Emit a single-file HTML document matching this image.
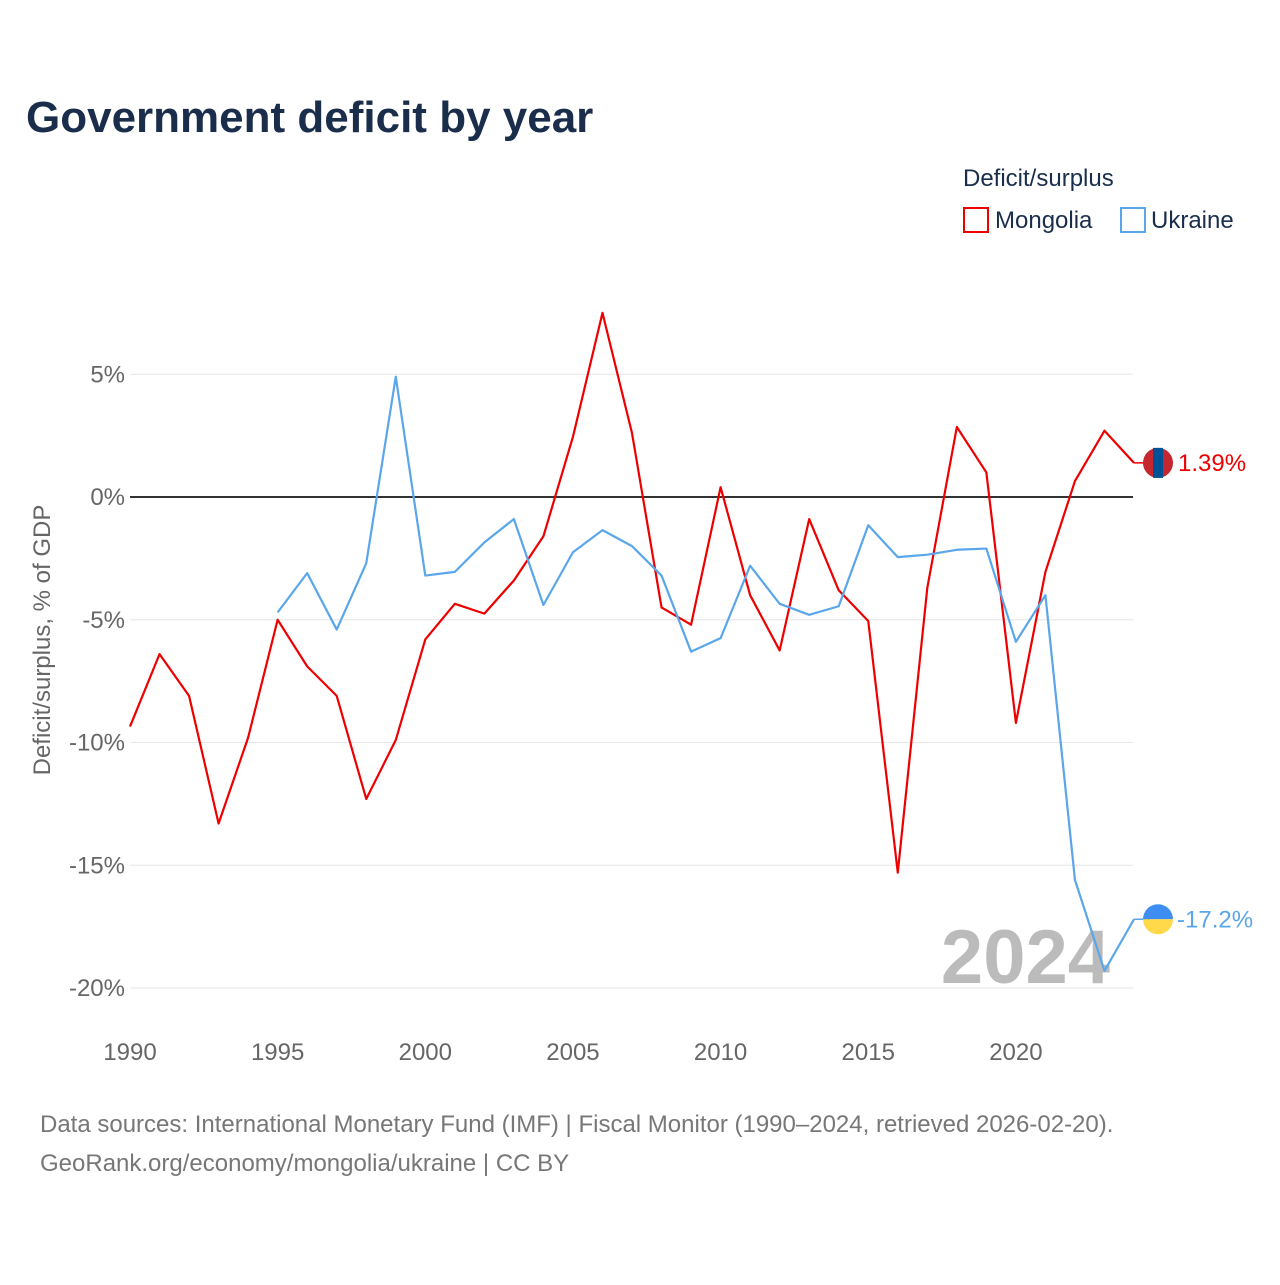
<!DOCTYPE html>
<html><head><meta charset="utf-8"><style>
body{margin:0;background:#fff;font-family:"Liberation Sans",sans-serif;}
</style></head><body>
<svg width="1280" height="1280" viewBox="0 0 1280 1280" xmlns="http://www.w3.org/2000/svg" id="chart">
<rect width="1280" height="1280" fill="#fff"/>
<text x="26" y="132" font-size="44" font-weight="bold" fill="#1a2e4c">Government deficit by year</text>
<text x="963" y="186" font-size="24" fill="#1a2e4c">Deficit/surplus</text>
<g><rect x="964" y="208" width="24" height="24" fill="none" stroke="#e00" stroke-width="2"/><text x="995" y="228" font-size="24" fill="#1a2e4c">Mongolia</text></g>
<g><rect x="1121" y="208" width="24" height="24" fill="none" stroke="#5aa6ea" stroke-width="2"/><text x="1151" y="228" font-size="24" fill="#1a2e4c">Ukraine</text></g>
<g id="grid"></g>
<text x="1110" y="983" font-size="76" font-weight="bold" fill="#bbb" text-anchor="end">2024</text>
<g id="series"></g>
<text transform="translate(50,640) rotate(-90)" font-size="24" fill="#666" text-anchor="middle">Deficit/surplus, % of GDP</text>
<text x="40" y="1132" font-size="24" fill="#777">Data sources: International Monetary Fund (IMF) | Fiscal Monitor (1990–2024, retrieved 2026-02-20).</text>
<text x="40" y="1171" font-size="24" fill="#777">GeoRank.org/economy/mongolia/ukraine | CC BY</text>
</svg>
<script>
const years=[];for(let y=1990;y<=2024;y++)years.push(y);
const mongolia=[-9.35,-6.4,-8.1,-13.3,-9.8,-5.0,-6.9,-8.1,-12.3,-9.9,-5.8,-4.35,-4.75,-3.4,-1.6,2.45,7.5,2.6,-4.5,-5.2,0.4,-4.0,-6.25,-0.9,-3.8,-5.05,-15.3,-3.7,2.85,1.0,-9.2,-3.05,0.65,2.7,1.39];
const ukraine=[null,null,null,null,null,-4.7,-3.1,-5.4,-2.7,4.9,-3.2,-3.05,-1.85,-0.9,-4.4,-2.25,-1.35,-2.0,-3.2,-6.3,-5.75,-2.8,-4.35,-4.8,-4.45,-1.15,-2.45,-2.35,-2.15,-2.1,-5.9,-4.0,-15.6,-19.3,-17.2];
const yTicks=[5,0,-5,-10,-15,-20];
const xTicks=[1990,1995,2000,2005,2010,2015,2020];
const NS="http://www.w3.org/2000/svg";
const X=y=>130+(y-1990)*29.53;
const Y=v=>497-v*24.55;
function mk(t,a,p){const e=document.createElementNS(NS,t);for(const k in a)e.setAttribute(k,a[k]);p.appendChild(e);return e;}
const g=document.getElementById('grid'),s=document.getElementById('series');
yTicks.forEach(v=>{
 const l=mk('line',{x1:130,x2:1133,y1:Y(v),y2:Y(v),stroke:v===0?'#333':'#e6e6e6','stroke-width':v===0?2:1},g);
 
 
 const t=mk('text',{x:125,y:Y(v)+8,'font-size':24,fill:'#666','text-anchor':'end'},g);t.textContent=v+'%';
 
 
});
xTicks.forEach(v=>{
 const t=mk('text',{x:X(v),y:1060,'font-size':24,fill:'#666','text-anchor':'middle'},g);t.textContent=v;
 
 
});
function line(data,color,name){
 let d='';data.forEach((v,i)=>{if(v===null)return;d+=(d?'L':'M')+X(years[i])+','+Y(v);});
 const p=mk('path',{d:d,fill:'none',stroke:color,'stroke-width':2.2,'stroke-linejoin':'round'},s);
 
 
 const last=data[data.length-1],ly=Y(last);
 mk('line',{x1:X(2024),x2:1150,y1:ly,y2:ly,stroke:color,'stroke-width':1.5},s);
 return ly;
}
const my=line(mongolia,'#e00','mongolia-line');
const uy=line(ukraine,'#5aa6ea','ukraine-line');
const fm=mk('g',{},s);


mk('circle',{cx:1158,cy:my,r:15,fill:'#c4272f'},fm);mk('rect',{x:1153,y:my-15,width:10,height:30,fill:'#015197'},fm);
const fu=mk('g',{},s);


mk('path',{d:`M1143,${uy}A15,15 0 0 1 1173,${uy}Z`,fill:'#3d8ef0'},fu);mk('path',{d:`M1143,${uy}A15,15 0 0 0 1173,${uy}Z`,fill:'#ffd94a'},fu);
const tm=mk('text',{x:1178,y:my+8,'font-size':24,fill:'#e00'},s);tm.textContent=mongolia[mongolia.length-1].toFixed(2)+'%';


const tu=mk('text',{x:1177,y:uy+8,'font-size':24,fill:'#5aa6ea'},s);tu.textContent=ukraine[ukraine.length-1].toFixed(1)+'%';


</script>
</body></html>
